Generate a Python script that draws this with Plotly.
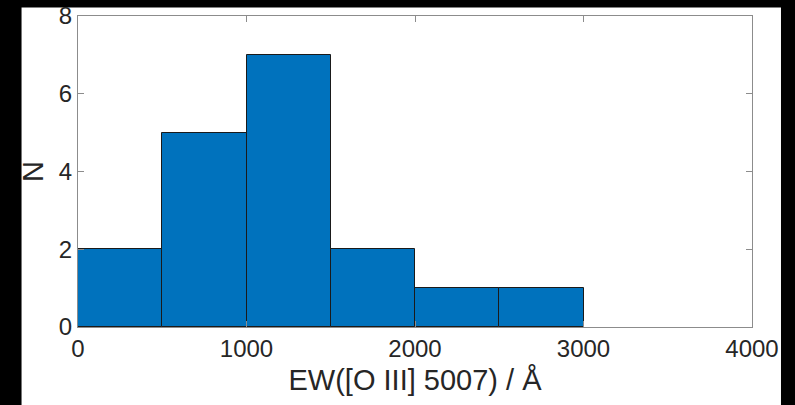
import plotly.graph_objects as go

# Histogram of [O III] 5007 equivalent widths (bin edges in Å, counts per bin)
bin_edges = [0, 500, 1000, 1500, 2000, 2500, 3000]
counts = [2, 5, 7, 2, 1, 1]

x_ticks = [0, 1000, 2000, 3000, 4000]
y_ticks = [0, 2, 4, 6, 8]

centers = [(a + b) / 2 for a, b in zip(bin_edges[:-1], bin_edges[1:])]
widths = [b - a for a, b in zip(bin_edges[:-1], bin_edges[1:])]

W, H = 795, 405
L, R, T, B = 77.5, 43, 15.5, 78
pw, ph = W - L - R, H - T - B

font = dict(family="Liberation Sans, Arial, sans-serif", size=24, color="#262626")
axis_col = "#8c8c8c"

fig = go.Figure(go.Bar(
    x=centers, y=counts, width=widths,
    marker=dict(color="#0072BD", line=dict(color="#1a1a1a", width=1)),
))

fig.update_layout(
    width=W, height=H,
    margin=dict(l=L, r=R, t=T, b=B, pad=0, autoexpand=False),
    paper_bgcolor="black", plot_bgcolor="white",
    font=font, showlegend=False, bargap=0,
    shapes=[dict(
        type="rect", xref="paper", yref="paper", layer="below",
        x0=(21 - L) / pw, x1=(781 - L) / pw,
        y0=-0.4, y1=(T + ph - 7) / ph,
        fillcolor="white", line=dict(width=0),
    )],
)

fig.update_xaxes(
    range=[0, 4000], tickvals=x_ticks, ticks="inside", ticklen=6,
    tickcolor=axis_col, showline=True, linecolor=axis_col, linewidth=1,
    mirror="ticks", showgrid=False, zeroline=False, automargin=False,
    title=dict(text="EW([O III] 5007) / Å", standoff=8),
)
fig.update_yaxes(
    range=[0, 8], tickvals=y_ticks, ticks="inside", ticklen=6,
    tickcolor=axis_col, showline=True, linecolor=axis_col, linewidth=1,
    mirror="ticks", showgrid=False, zeroline=False, automargin=False,
    title=dict(text="N", standoff=6),
)

fig.write_html("out.html")
